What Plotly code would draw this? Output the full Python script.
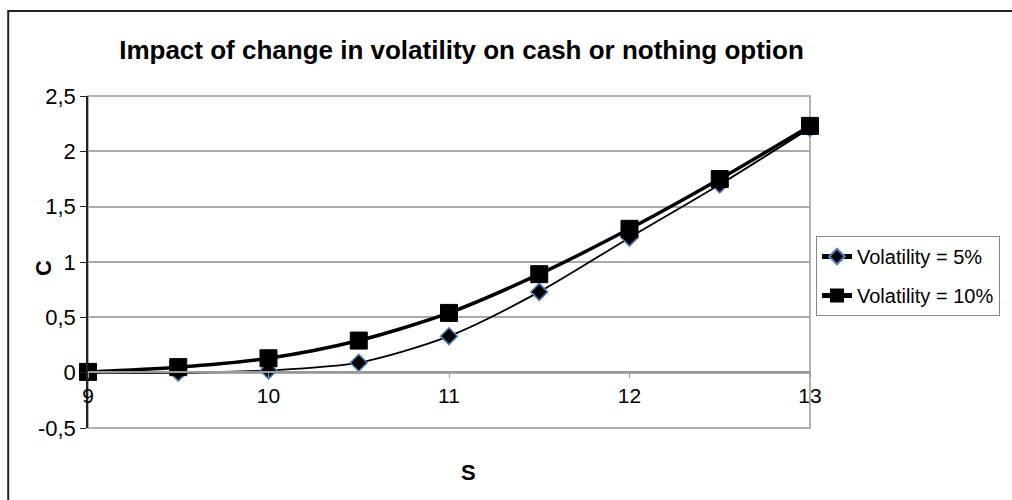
import plotly.graph_objects as go

# Underlying price S and option value C for two volatility levels
s_values = [9, 9.5, 10, 10.5, 11, 11.5, 12, 12.5, 13]
c_vol_5 = [0.0, 0.0, 0.02, 0.09, 0.33, 0.73, 1.22, 1.70, 2.21]
c_vol_10 = [0.007, 0.05, 0.13, 0.29, 0.54, 0.89, 1.30, 1.75, 2.23]

series_names = ["Volatility = 5%", "Volatility = 10%"]
y_tick_vals = [-0.5, 0, 0.5, 1, 1.5, 2, 2.5]
y_tick_text = ["-0,5", "0", "0,5", "1", "1,5", "2", "2,5"]
x_tick_vals = [9, 10, 11, 12, 13]
x_tick_text = ["9", "10", "11", "12", "13"]

FONT = "Liberation Sans, Arial, sans-serif"
W, H = 1012, 500
L, R, T, B = 88, 200, 96, 72
PW, PH = W - L - R, H - T - B


def px_to_paper(x, y):
    return (x - L) / PW, (H - B - y) / PH


fig = go.Figure()

fig.add_trace(go.Scatter(
    x=s_values, y=c_vol_5, name=series_names[0], mode="lines+markers",
    line=dict(color="black", width=1.8, shape="spline", smoothing=0.8),
    marker=dict(symbol="diamond", size=13, color="black",
                line=dict(color="#4F81BD", width=1.5)),
    cliponaxis=False, legendgroup="a",
))
fig.add_trace(go.Scatter(
    x=s_values, y=c_vol_10, name=series_names[1], mode="lines+markers",
    line=dict(color="black", width=3.5, shape="spline", smoothing=0.8),
    marker=dict(symbol="square", size=17, color="black",
                line=dict(color="black", width=1)),
    cliponaxis=False, legendgroup="b",
))

# Outer chart frame
fx0, fy0 = px_to_paper(8, 11)
fx1, fy1 = px_to_paper(1100, 560)
fig.add_shape(type="rect", xref="paper", yref="paper",
              x0=fx0, x1=fx1, y0=fy1, y1=fy0,
              line=dict(color="#222222", width=2), layer="below")
# Plot area box
fig.add_shape(type="rect", xref="paper", yref="paper",
              x0=0, x1=1, y0=0, y1=1,
              line=dict(color="#999999", width=1.5), layer="below")
# Darker gridline at 1,5
fig.add_shape(type="line", xref="paper", yref="y",
              x0=0, x1=1, y0=1.5, y1=1.5,
              line=dict(color="#333333", width=1), layer="below")

cx, cy = px_to_paper(43, 268)
sx, sy = px_to_paper(470, 472)
zero_pos = (H - B - 371.5) / PH

fig.update_layout(
    width=W, height=H,
    margin=dict(l=L, r=R, t=T, b=B),
    paper_bgcolor="white", plot_bgcolor="white",
    font=dict(family=FONT, size=20, color="black"),
    title=dict(text="<b>Impact of change in volatility on cash or nothing option</b>",
               font=dict(family=FONT, size=26, color="black"),
               x=461.5 / W, xanchor="center", xref="container",
               y=1 - 50 / H, yanchor="middle", yref="container"),
    xaxis=dict(range=[9, 13], tickvals=x_tick_vals, ticktext=x_tick_text,
               showgrid=False, zeroline=False,
               showline=True, linecolor="#999999", linewidth=1.5,
               ticks="outside", ticklen=6, tickcolor="#999999",
               anchor="free", position=zero_pos,
               tickfont=dict(family=FONT, size=21)),
    yaxis=dict(range=[-0.5, 2.5], tickvals=y_tick_vals, ticktext=y_tick_text,
               showgrid=True, gridcolor="#AAAAAA", gridwidth=1.5,
               zeroline=False, showline=True, linecolor="#222222", linewidth=1.5,
               ticks="outside", ticklen=6, tickcolor="#222222",
               tickfont=dict(family=FONT, size=22)),
    legend=dict(x=(818 - L) / PW, y=(H - B - 236) / PH,
                xanchor="left", yanchor="top",
                bordercolor="#888888", borderwidth=1, bgcolor="white",
                font=dict(family=FONT, size=20),
                itemsizing="constant",
                traceorder="grouped", tracegroupgap=10),
    annotations=[
        dict(text="<b>C</b>", x=cx, y=cy, xref="paper", yref="paper",
             xanchor="center", yanchor="middle",
             showarrow=False, textangle=-90,
             font=dict(family=FONT, size=22, color="black")),
        dict(text="<b>S</b>", x=sx, y=sy, xref="paper", yref="paper",
             xanchor="center", yanchor="middle",
             showarrow=False,
             font=dict(family=FONT, size=22, color="black")),
    ],
    showlegend=True,
)

fig.write_html("out.html")
